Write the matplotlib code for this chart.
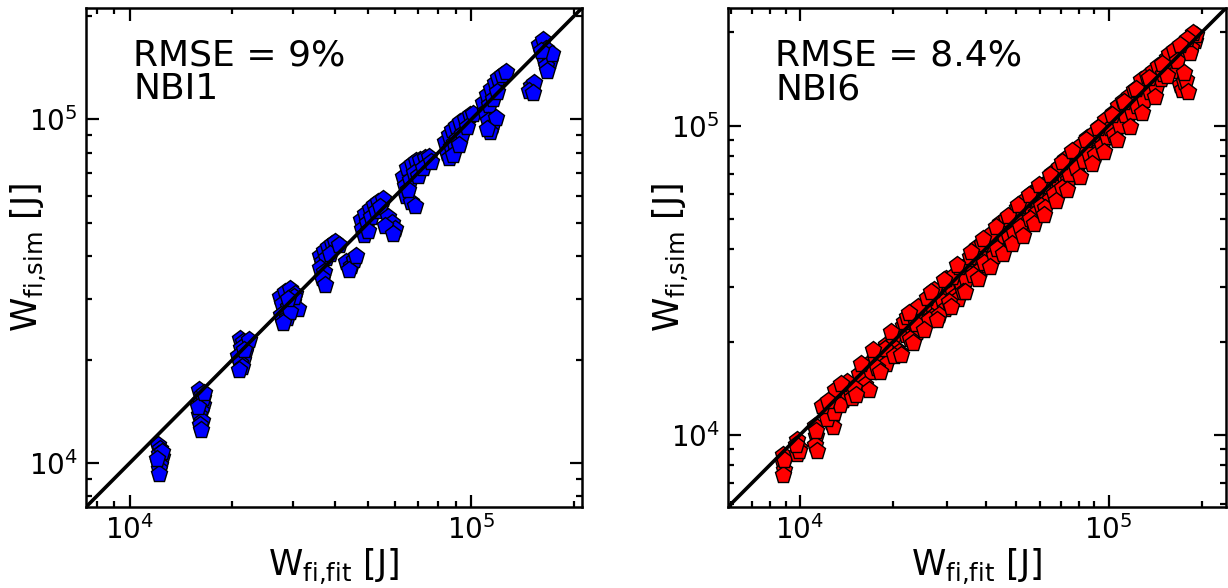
import matplotlib
matplotlib.use("Agg")
import matplotlib.pyplot as plt
import numpy as np

plt.rcParams['font.family'] = ['DejaVu Sans']
plt.rcParams['mathtext.default'] = 'regular'

# ---------------- data (kJ) ----------------
nbi1_fit = [
    12.1, 12.3, 12.2, 12.4, 12.1, 12.3, 12.2, 12.2, 12.4, 12.0,
    16.0, 16.3, 16.1, 16.4, 16.2, 16.0, 16.3, 16.1, 16.2, 16.4, 15.9, 16.5,
    21.0, 21.5, 22.0, 21.2, 21.8, 20.8, 21.4, 21.0, 21.3, 20.9, 22.3, 21.6,
    27.5, 28.5, 29.5, 30.5, 28.0, 29.0, 30.0, 31.0, 27.8, 28.8, 29.5, 28.2, 30.2, 29.0,
    36.0, 37.0, 38.0, 39.0, 40.0, 36.5, 37.5, 36.0, 37.0, 36.5, 37.2, 38.5, 41.0,
    43.0, 44.5, 45.5, 44.0, 46.0,
    47.5, 49.0, 50.5, 52.0, 53.5, 55.0, 48.0, 49.5, 51.0, 48.5, 50.0, 52.5, 54.0,
    57.0, 58.5, 60.0, 56.0, 59.0,
    63.0, 65.0, 67.0, 69.0, 71.0, 73.0, 75.0, 64.0, 66.0, 68.0, 70.0, 72.0,
    64.5, 66.5, 68.5, 65.5, 76.5,
    84.0, 86.0, 88.0, 90.0, 93.0, 96.0, 99.0, 101.0, 85.0, 87.0, 89.0, 91.0,
    94.0, 97.0, 86.0, 88.5, 92.0,
    108.0, 111.0, 114.0, 117.0, 120.0, 123.0, 126.0, 110.0, 113.0, 116.0, 119.0,
    112.0, 115.0, 113.5, 118.0, 111.0,
    150.0, 153.0, 148.0, 152.0,
    158.0, 162.0, 165.0, 168.0, 163.0, 170.0, 166.0, 172.0, 160.0, 167.0,
]
nbi1_sim = [
    11.3, 11.0, 10.6, 10.4, 10.1, 9.9, 9.6, 9.3, 10.8, 10.3,
    16.3, 15.8, 15.2, 14.8, 14.2, 13.8, 13.3, 12.9, 12.5, 15.5, 14.6, 16.0,
    23.0, 22.5, 22.2, 21.6, 21.0, 20.5, 20.0, 19.5, 19.0, 18.7, 22.8, 21.3,
    30.5, 31.5, 32.0, 31.0, 29.0, 28.5, 29.5, 28.0, 27.0, 26.5, 27.5, 25.5, 30.5, 30.0,
    40.0, 41.5, 42.5, 43.5, 44.0, 38.5, 39.5, 37.0, 36.0, 34.5, 33.0, 40.5, 43.0,
    38.5, 37.5, 39.0, 36.5, 40.0,
    51.0, 53.0, 55.0, 56.5, 57.5, 58.5, 48.0, 50.0, 52.0, 46.0, 47.5, 54.0, 55.5,
    52.0, 50.0, 48.0, 49.0, 46.5,
    68.0, 72.0, 74.0, 75.5, 76.0, 77.0, 78.0, 64.0, 66.5, 70.0, 68.5, 72.0,
    60.0, 57.5, 56.0, 62.5, 75.0,
    86.0, 90.0, 93.0, 96.0, 98.0, 100.0, 103.0, 104.0, 80.0, 83.0, 85.5, 88.0,
    91.0, 95.0, 77.0, 79.0, 84.0,
    112.0, 118.0, 123.0, 128.0, 132.0, 135.0, 137.0, 105.0, 110.0, 115.0, 120.0,
    99.0, 96.0, 92.0, 101.0, 94.0,
    125.0, 128.0, 121.0, 119.0,
    165.0, 170.0, 160.0, 152.0, 150.0, 148.0, 143.0, 155.0, 158.0, 138.0,
]

nbi6_fit = [
    8.8, 8.8, 8.9, 8.8, 8.9,
    9.8, 9.9, 9.8, 9.9, 9.7,
    11.2, 11.3, 11.2, 11.4, 11.3,
    12.0, 12.4, 12.6, 12.8, 12.2, 12.9,
    13.3, 13.8, 14.0, 14.5, 13.5, 14.8,
    15.5, 16.0, 16.5, 17.0, 16.2, 17.5, 16.8,
    18.0, 18.5, 19.0, 19.5, 20.0, 19.0, 20.5, 21.0,
    21.5, 22.0, 22.5, 23.0, 23.5, 24.0, 22.8, 24.5, 25.0,
    25.5, 26.0, 26.5, 27.0, 27.5, 28.0, 26.8, 28.5, 29.0, 29.5,
    30.0, 31.0, 32.0, 33.0, 34.0, 31.5, 33.5, 35.0, 32.5, 36.0, 34.5,
    37.0, 38.0, 39.0, 40.0, 41.0, 42.0, 38.5, 43.0, 44.0, 40.5, 45.0,
    46.0, 47.0, 48.0, 49.0, 50.0, 48.5, 51.0, 52.0, 53.0, 54.0, 52.5,
    55.0, 56.0, 57.5, 59.0, 60.0, 61.0, 62.5, 58.0, 63.5, 65.0, 66.0, 64.0,
    67.0, 68.5, 70.0, 71.5, 73.0, 72.0, 75.0, 76.5, 74.0, 78.0, 80.0, 79.0,
    82.0, 84.0, 86.0, 88.0, 90.0, 87.0, 92.0, 94.0, 96.0, 91.0, 98.0, 100.0,
    102.0, 105.0, 108.0, 110.0, 112.0, 106.0, 115.0, 118.0, 120.0, 114.0, 123.0, 126.0,
    128.0, 131.0, 134.0, 137.0, 140.0, 143.0, 146.0,
    155.0, 158.0, 162.0, 165.0, 168.0, 160.0,
    170.0, 173.0, 176.0,
    182.0, 186.0, 190.0, 185.0, 192.0,
    13.0, 14.2, 15.0, 15.2, 17.8, 18.8, 20.2, 21.8, 22.2, 23.8, 24.2, 25.8,
    26.2, 27.2, 28.2, 29.8, 30.5, 31.2, 32.8, 33.8, 35.5, 36.5, 37.5, 38.8,
    39.5, 41.5, 42.5, 43.5, 44.5, 46.5, 47.5, 49.5, 50.5, 51.5, 53.5, 55.5,
    56.5, 58.5, 60.5, 61.5, 62.0, 65.5, 66.5, 69.0, 70.5, 72.5, 74.5, 77.0,
    78.5, 81.0, 83.0, 85.0, 86.5, 89.0, 90.5, 93.0, 95.0, 97.0, 99.0, 101.0,
    103.0, 104.0, 107.0, 109.0, 111.0, 113.0, 116.0, 119.0, 121.0, 124.0,
    127.0, 130.0, 133.0, 136.0, 139.0, 142.0, 145.0, 148.0, 152.0, 150.0,
    157.0, 163.0, 166.0, 178.0, 184.0, 188.0, 180.0,
    11.8, 12.3, 13.6, 15.8, 17.2, 18.2, 19.8, 21.2, 22.6, 23.2, 25.2, 26.6,
    27.8, 29.2, 30.8, 32.2, 34.2, 35.8, 37.8, 39.2, 41.2, 43.2, 45.5, 47.2,
    48.8, 50.8, 52.8, 55.2, 57.2, 59.5, 61.8, 64.5, 67.5, 70.8, 73.5, 76.0,
    80.5, 84.5, 88.5, 92.5, 96.5, 102.5, 106.5, 112.5, 117.0, 122.5, 128.5,
    135.0, 141.0, 149.0, 154.0, 170.0, 175.0, 181.0,
]
nbi6_sim = [
    8.6, 8.1, 7.7, 7.4, 8.3,
    9.6, 9.1, 8.7, 8.9, 9.3,
    10.7, 9.9, 9.3, 8.9, 10.3,
    12.2, 11.6, 11.0, 10.6, 11.3, 11.8,
    13.5, 13.0, 13.8, 14.0, 12.5, 13.2,
    15.8, 15.0, 16.8, 16.0, 14.5, 17.8, 14.0,
    18.5, 17.5, 19.5, 18.0, 20.5, 17.0, 19.0, 18.5,
    22.5, 21.0, 23.0, 22.0, 24.0, 21.5, 20.5, 25.5, 23.5,
    26.5, 25.0, 27.5, 25.5, 28.0, 26.0, 24.0, 29.5, 27.0, 25.5,
    31.0, 29.5, 33.0, 31.0, 35.0, 28.0, 30.0, 33.5, 27.5, 37.0, 32.0,
    38.5, 36.5, 40.0, 38.0, 43.0, 40.0, 34.5, 45.0, 42.0, 35.5, 47.0,
    44.0, 49.0, 46.0, 51.0, 48.0, 43.0, 53.0, 50.0, 55.0, 48.5, 46.0,
    57.0, 54.0, 59.5, 56.0, 62.0, 58.5, 65.0, 52.0, 61.0, 67.5, 63.0, 57.5,
    70.0, 66.0, 72.0, 68.0, 75.0, 64.0, 72.0, 78.0, 66.5, 80.0, 76.0, 70.0,
    84.0, 81.0, 88.0, 85.0, 92.0, 78.0, 88.0, 96.0, 90.0, 82.0, 100.0, 95.0,
    105.0, 101.0, 112.0, 106.0, 116.0, 96.0, 110.0, 122.0, 114.0, 102.0, 127.0, 120.0,
    133.0, 126.0, 139.0, 131.0, 146.0, 137.0, 150.0,
    165.0, 160.0, 172.0, 155.0, 168.0, 150.0,
    135.0, 130.0, 138.0,
    185.0, 192.0, 188.0, 178.0, 196.0,
    14.0, 14.8, 14.2, 13.5, 16.5, 19.0, 18.0, 23.2, 24.0, 22.8, 26.0, 27.8,
    23.5, 29.5, 24.5, 32.0, 27.0, 32.5, 35.0, 29.0, 37.5, 33.0, 40.5, 41.5,
    36.0, 44.5, 38.0, 40.0, 48.5, 50.0, 43.5, 45.0, 54.0, 47.0, 57.5, 50.0,
    60.5, 62.0, 55.0, 64.0, 54.0, 70.5, 60.0, 73.5, 63.0, 78.0, 70.0, 82.0,
    73.0, 86.0, 77.0, 91.0, 81.0, 94.0, 80.5, 99.0, 86.0, 104.0, 92.0, 98.0,
    110.0, 93.0, 116.0, 100.0, 120.0, 108.0, 125.0, 111.0, 130.0, 116.0,
    140.0, 121.0, 145.0, 128.0, 150.0, 132.0, 156.0, 142.0, 160.0, 147.0,
    170.0, 176.0, 162.0, 140.0, 172.0, 199.0, 190.0,
    12.4, 12.9, 14.6, 17.0, 18.8, 16.0, 21.5, 18.2, 24.8, 19.8, 21.8, 29.0,
    23.5, 31.8, 26.0, 35.5, 29.0, 39.0, 32.0, 43.0, 35.0, 47.0, 38.5, 51.0,
    41.5, 55.5, 44.0, 59.5, 48.0, 64.5, 51.5, 69.5, 57.0, 76.0, 62.0, 83.0,
    68.0, 90.0, 75.0, 98.0, 82.0, 108.0, 90.0, 119.0, 99.0, 131.0, 110.0,
    143.0, 124.0, 158.0, 145.0, 182.0, 148.0, 128.0,
]

panels = [
    dict(fit=nbi1_fit, sim=nbi1_sim, color='#0000ff', text='RMSE = 9%\nNBI1',
         lim=[7.45e3, 2.11e5], ylab_x=-0.075),
    dict(fit=nbi6_fit, sim=nbi6_sim, color='#ff0000', text='RMSE = 8.4%\nNBI6',
         lim=[5.85e3, 2.40e5], ylab_x=-0.075),
]
axes_rects = [
    [86/1228, 1-507/588, 496/1228, 499/588],
    [728/1228, 1-507/588, 498/1228, 499/588],
]

fig = plt.figure(figsize=(12.28, 5.88), dpi=100)
for p, rect in zip(panels, axes_rects):
    ax = fig.add_axes(rect)
    x = np.array(p['fit']) * 1e3
    y = np.array(p['sim']) * 1e3
    ax.plot(p['lim'], p['lim'], color='black', lw=2.6, zorder=3)
    ax.plot(x, y, linestyle='none', marker='p', ms=12.5, mfc=p['color'],
            mec='black', mew=1.0, zorder=2)
    ax.set_xscale('log')
    ax.set_yscale('log')
    ax.set_xlim(p['lim'])
    ax.set_ylim(p['lim'])
    ax.text(0.095, 0.938, p['text'], transform=ax.transAxes, fontsize=26,
            va='top', ha='left', linespacing=0.98)
    ax.set_xlabel(r'W$_{\mathregular{fi{,}fit}}$ [J]', fontsize=25, labelpad=1)
    ax.set_ylabel(r'W$_{\mathregular{fi{,}sim}}$ [J]', fontsize=25)
    ax.yaxis.set_label_coords(p['ylab_x'], 0.5)
    ax.tick_params(which='both', direction='in', top=True, right=True,
                   width=1.6, labelsize=20)
    ax.tick_params(which='major', length=9, pad=6)
    ax.tick_params(which='minor', length=4.5)
    for s in ax.spines.values():
        s.set_linewidth(1.8)

fig.savefig('out.png', dpi=100)
